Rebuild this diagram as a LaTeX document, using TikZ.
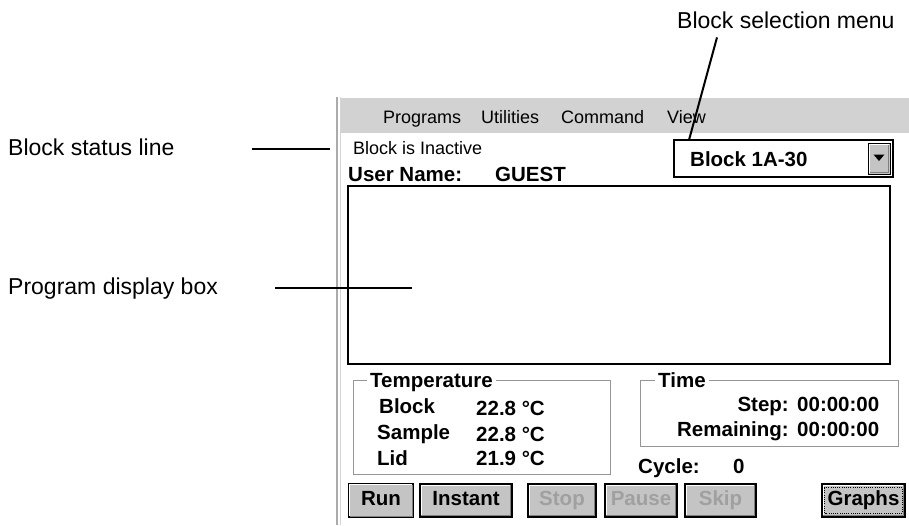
\documentclass[tikz,border=0pt]{standalone}
\usepackage{fontspec}
\setmainfont{Liberation Sans}
\usetikzlibrary{positioning}
\definecolor{menugray}{RGB}{210,210,210}
\definecolor{btngray}{RGB}{196,196,196}
\definecolor{framegray}{RGB}{150,150,150}
\definecolor{dimtext}{RGB}{160,160,160}

\begin{document}
\begin{tikzpicture}[x=1pt,y=-1pt]
\tikzset{callout/.style={anchor=base west,inner sep=0,font=\fontsize{23}{27}\selectfont},
  wintext/.style={anchor=base west,inner sep=0,font=\fontsize{18}{21}\selectfont},
  winbold/.style={anchor=base west,inner sep=0,font=\fontsize{20.5}{23}\selectfont\bfseries},
  pointer/.style={line width=2pt},
  winbtn/.style={draw,line width=1.2pt,fill=btngray,minimum height=33,inner sep=0,
    text height=14,text depth=4,font=\fontsize{20.5}{23}\selectfont\bfseries},
  groupbox/.style={draw=framegray,line width=1pt}}
\useasboundingbox (0,0) rectangle (909,525);
% window frame and menu bar
\draw[color=framegray!80,line width=1.2pt] (337,97) -- (337,525);
\draw[color=framegray!40,line width=1pt] (340,97) -- (340,525);
\fill[menugray] (341,98) rectangle (909,133);
\node[wintext](mprog) at (383,123) {Programs};
\node[wintext](mutil) at (481,123) {Utilities};
\node[wintext](mcmd) at (561,123) {Command};
\node[wintext](mview) at (667,123) {View};
% status, user and block selection
\node[wintext](status) at (353,154) {Block is Inactive};
\node[winbold](user) at (348,181) {User Name:};
\node[winbold](guest) at (495,181) {GUEST};
\draw[line width=1.6pt] (674,140) rectangle (893,177);
\node[winbold](blocksel) at (690,166) {Block 1A-30};
\node[draw,line width=1pt,fill=btngray,minimum width=22,minimum height=31,inner sep=0](dropbtn) at (879,158.5) {};
\fill (873.5,154.5) -- (884.5,154.5) -- (879,161) -- cycle;
\coordinate (blockbox) at (674,140);
% program display box
\node[draw,line width=1.6pt,fill=white,minimum width=542,minimum height=178,inner sep=0](progbox) at (619,275) {};
% temperature
\draw[groupbox] (353,380) rectangle (610,474);
\node[winbold,fill=white,inner xsep=3](temp) at (367,387) {Temperature};
\node[winbold](tblock) at (379,413) {Block};
\node[winbold](tsample) at (377,439) {Sample};
\node[winbold](tlid) at (377,465) {Lid};
\node[winbold](vblock) at (476,415) {22.8 °C};
\node[winbold](vsample) at (476,441) {22.8 °C};
\node[winbold](vlid) at (476,465) {21.9 °C};
% time
\draw[groupbox] (640,380) rectangle (898,446);
\node[winbold,fill=white,inner xsep=3](time) at (655,387) {Time};
\node[winbold,anchor=base east](step) at (789,411) {Step:};
\node[winbold,anchor=base east](remain) at (789,436) {Remaining:};
\node[winbold](vstep) at (797,411) {00:00:00};
\node[winbold](vremain) at (797,436) {00:00:00};
\node[winbold](cycle) at (638,473) {Cycle:};
\node[winbold](vcycle) at (733,473) {0};
% buttons
\node[winbtn,line width=2.4pt,minimum width=64](run) at (381,500.5) {Run};
\node[winbtn,minimum width=92](instant) at (466,500.5) {Instant};
\node[winbtn,minimum width=68,text=dimtext](stop) at (562,500.5) {Stop};
\node[winbtn,minimum width=72,text=dimtext](pause) at (641,500.5) {Pause};
\node[winbtn,minimum width=71,text=dimtext](skip) at (720.5,500.5) {Skip};
\node[winbtn,minimum width=83](graphs) at (863.5,500.5) {Graphs};
\foreach \b in {run,instant,stop,pause,skip,graphs,dropbtn}{
  \draw[white,line width=1.2pt] ([shift={(2,-2)}]\b.south west) -- ([shift={(2,2)}]\b.north west) -- ([shift={(-2,2)}]\b.north east);
  \draw[gray,line width=1.2pt] ([shift={(2,-2)}]\b.south west) -- ([shift={(-2,-2)}]\b.south east) -- ([shift={(-2,2)}]\b.north east);
}
\draw[line width=0.9pt,dash pattern=on 1pt off 1.2pt] ([shift={(3.5,-4.5)}]graphs.south west) rectangle ([shift={(-3.5,4.5)}]graphs.north east);
% callouts
\node[callout](sellbl) at (677,28) {Block selection menu};
\node[callout](statlbl) at (8,155) {Block status line};
\node[callout](proglbl) at (8,294) {Program display box};
\coordinate (statA) at (252,149);
\coordinate (statB) at (330,149);
\draw[pointer] ([xshift=40,yshift=-9]sellbl.south west) -- ([xshift=15]blockbox);
\draw[pointer] (statA) -- (statB);
\draw[pointer] ([xshift=57]proglbl.east) -- ([xshift=65]progbox.west |- proglbl.east);
\end{tikzpicture}
\end{document}
